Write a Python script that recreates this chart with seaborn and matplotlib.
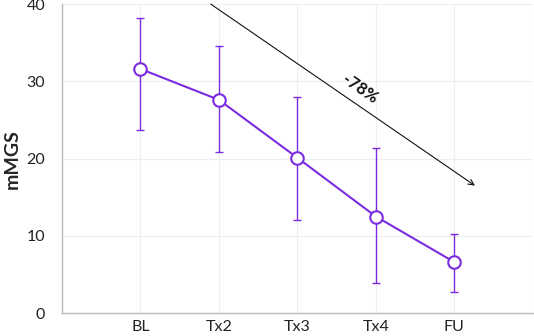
import matplotlib
matplotlib.use("Agg")
import matplotlib.pyplot as plt
import seaborn as sns
import pandas as pd
import numpy as np

categories = ["BL", "Tx2", "Tx3", "Tx4", "FU"]
means = [31.6, 27.6, 20.1, 12.5, 6.6]
upper = [38.2, 34.6, 28.0, 21.4, 10.3]
lower = [23.7, 20.9, 12.1, 3.9, 2.7]
yticks = [0, 10, 20, 30, 40]
annotation = "-78%"

color = "#7B2BE2"

sns.set_theme(style="white")
plt.rcParams["font.family"] = ["Lato", "DejaVu Sans"]

df = pd.DataFrame({"visit": categories, "mMGS": means})
x = np.arange(len(categories))

fig, ax = plt.subplots(figsize=(5.34, 3.36), dpi=100)
fig.subplots_adjust(left=0.116, right=0.998, top=0.988, bottom=0.068)

ax.errorbar(x, means,
            yerr=[np.array(means) - np.array(lower), np.array(upper) - np.array(means)],
            fmt="none", ecolor=color, elinewidth=1.0, capsize=3, capthick=1.0, zorder=2)
sns.lineplot(data=df, x="visit", y="mMGS", ax=ax, color=color, linewidth=1.5,
             marker="o", markersize=9, markerfacecolor="white",
             markeredgecolor=color, markeredgewidth=1.5, sort=False, zorder=3)

ax.set_xlim(-1, 5)
ax.set_ylim(0, 40)
ax.set_yticks(yticks)
ax.set_xticks(x)
ax.set_xticklabels(categories)
ax.set_xticks([-1, 5], minor=True)
ax.grid(True, which="both", color="#eceef3", linewidth=0.8)
ax.set_axisbelow(True)
ax.set_xlabel("")
ax.set_ylabel("mMGS", fontsize=14, fontweight="bold")
ax.yaxis.set_label_coords(-0.088, 0.5)
ax.tick_params(axis="both", which="both", length=0, labelsize=11.5, colors="#222222")
ax.tick_params(axis="x", pad=5)
ax.tick_params(axis="y", pad=12)

for s in ["top", "right"]:
    ax.spines[s].set_visible(False)
for s in ["left", "bottom"]:
    ax.spines[s].set_color("#bbbbbb")
    ax.spines[s].set_linewidth(1.0)

ax.annotate("", xy=(4.29, 16.3), xytext=(0.866, 40.2),
            arrowprops=dict(arrowstyle="->", color="#111111", lw=0.8,
                            mutation_scale=10),
            annotation_clip=False)
ax.text(2.8, 29.0, annotation, rotation=-34.5, ha="center", va="center",
        fontsize=12, fontweight="bold", color="#111111",
        rotation_mode="anchor")

fig.savefig("out.png", dpi=100)
